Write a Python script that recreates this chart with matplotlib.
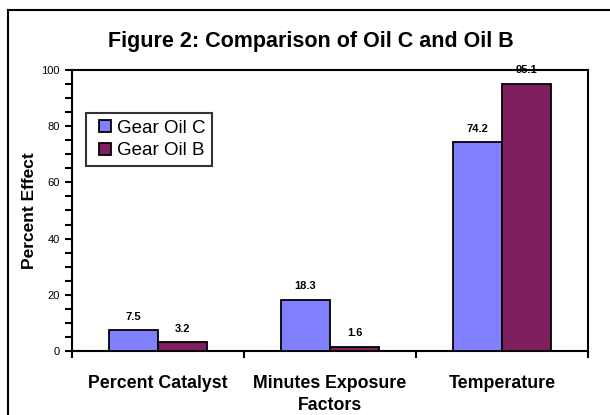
import matplotlib
matplotlib.use("Agg")
import matplotlib.pyplot as plt
from matplotlib.lines import Line2D
from matplotlib.ticker import MultipleLocator, FixedLocator, NullFormatter
import numpy as np

plt.rcParams['font.family'] = ['Liberation Sans', 'DejaVu Sans']

categories = ["Percent Catalyst", "Minutes Exposure", "Temperature"]
series_names = ["Gear Oil C", "Gear Oil B"]
oil_c = [7.5, 18.3, 74.2]
oil_b = [3.2, 1.6, 95.1]
colors = ["#8080FF", "#7F1F5F"]

W, H = 610, 415
fig = plt.figure(figsize=(W / 100, H / 100), dpi=100)
ax = fig.add_axes([72 / W, 1 - 351 / H, (588 - 72) / W, (351 - 70) / H])

x = np.arange(len(categories))
bw = 0.285
bars_c = ax.bar(x - bw / 2, oil_c, bw, color=colors[0], edgecolor="black",
                linewidth=1.3, zorder=3)
bars_b = ax.bar(x + bw / 2, oil_b, bw, color=colors[1], edgecolor="black",
                linewidth=1.3, zorder=3)

for bars, vals in ((bars_c, oil_c), (bars_b, oil_b)):
    for rect, v in zip(bars, vals):
        ax.annotate(f"{v:.1f}", (rect.get_x() + rect.get_width() / 2, v),
                    xytext=(0, 6), textcoords="offset points",
                    ha="center", va="bottom", fontsize=8, fontweight="bold",
                    zorder=5)

ax.set_xlim(-0.5, len(categories) - 0.5)
ax.set_ylim(0, 100)

# category boundaries carry the ticks, names sit at centres
ax.xaxis.set_major_locator(FixedLocator(np.arange(-0.5, len(categories), 1.0)))
ax.xaxis.set_major_formatter(NullFormatter())
ax.xaxis.set_minor_locator(FixedLocator(x))
ax.set_xticklabels(categories, minor=True, fontsize=12.8, fontweight="bold")
ax.tick_params(axis="x", which="major", direction="out", length=5, width=1.5)
ax.tick_params(axis="x", which="minor", length=0, pad=17)

ax.yaxis.set_major_locator(MultipleLocator(20))
ax.yaxis.set_minor_locator(MultipleLocator(5))
ax.tick_params(axis="y", which="both", direction="out", length=5, width=1.5,
               labelsize=8, pad=4)

for s in ax.spines.values():
    s.set_linewidth(1.5)

ax.set_ylabel("Percent Effect", fontsize=12.5, fontweight="bold", labelpad=3)
fig.text(330 / W, 1 - 410 / H, "Factors", ha="center", va="baseline",
         fontsize=12.8, fontweight="bold")
fig.text(311 / W, 1 - 47 / H, "Figure 2: Comparison of Oil C and Oil B",
         ha="center", va="baseline", fontsize=15.5, fontweight="bold")

handles = [Line2D([], [], linestyle="none", marker="s", markersize=8.6,
                  markerfacecolor=c, markeredgecolor="black", markeredgewidth=1.3)
           for c in colors]
leg = ax.legend(handles, series_names, loc="upper left",
                bbox_to_anchor=((86 - 72) / (588 - 72), (351 - 113) / (351 - 70)),
                fontsize=13.5, frameon=True, fancybox=False, borderpad=0.35,
                handlelength=1.3, handletextpad=0.0,
                labelspacing=0.3, borderaxespad=0)
leg.get_frame().set_edgecolor("black")
leg.get_frame().set_linewidth(1.5)

# chart area frame (left and top edges)
fig.add_artist(Line2D([8 / W, 8 / W], [0, 1 - 10 / H], color="black", lw=1.5,
                      transform=fig.transFigure))
fig.add_artist(Line2D([8 / W, 1], [1 - 10 / H, 1 - 10 / H], color="black", lw=1.5,
                      transform=fig.transFigure))

fig.savefig("out.png", dpi=100)
